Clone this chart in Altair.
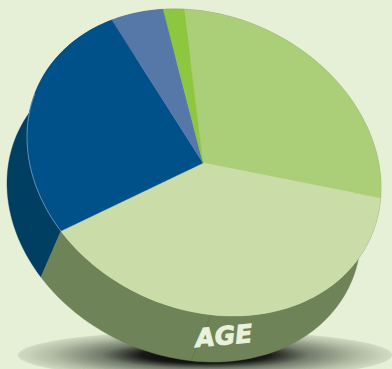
import numpy as np
import pandas as pd
import altair as alt

# Age breakdown, in percent, clockwise from the narrow green slice's right edge
categories = ["a", "b", "c", "d", "e"]
shares = [27.9, 38.9, 26.3, 5.0, 1.9]
top_colors = ["#ABCF78", "#CADDA9", "#00508A", "#5578A8", "#8DC63F"]
side_colors = ["#7F9A5A", "#6E8358", "#003F62", "#3F5A7E", "#6B9630"]
label_text = "AGE"

W, H = 392, 369
CX, CY, RX, RY = 204.0, 162.5, 177.0, 153.5
SKEW = np.radians(9.5)
START = 263.5
DROP_X, DROP_Y = -20.0, 46.0
BG = "#E5F0D6"

# Shadow falloff: relative radius and grey level per RGB channel
SHADOW_R = [0.0, 0.35, 0.56, 0.83, 1.0]
SHADOW_RGB = [(0, 0, 0), (25, 25, 24), (115, 124, 108), (178, 188, 165), (208, 218, 194)]


def rim(deg):
    t = np.radians(np.asarray(deg, dtype=float))
    return CX + RX * np.cos(t), CY + RY * np.sin(t + SKEW)


def polygon(xs, ys):
    return pd.DataFrame({"x": xs, "y": ys, "i": np.arange(len(xs))})


x_enc = alt.X("x:Q", axis=None, scale=alt.Scale(domain=[0, W]))
y_enc = alt.Y("y:Q", axis=None, scale=alt.Scale(domain=[H, 0]))


def filled(df, **style):
    return alt.Chart(df).mark_line(clip=True, **style).encode(
        x=x_enc, y=y_enc, order="i:Q"
    )


layers = []

# Ground shadow under the disc: nested ellipses from the rim inward
a = np.linspace(0, 2 * np.pi, 90)
for r in np.linspace(1.0, 0.03, 48):
    rgb = [int(round(np.interp(r, SHADOW_R, [c[j] for c in SHADOW_RGB]))) for j in range(3)]
    color = "#%02x%02x%02x" % tuple(rgb)
    layers.append(filled(
        polygon(205 + 187 * r * np.cos(a), 355 + 24 * r * np.sin(a)),
        fill=color, stroke=color, strokeWidth=0.2,
    ))

edges = START + 3.6 * np.concatenate([[0], np.cumsum(shares)])

# Side wall of each slice: the rim arc swept along the extrusion vector
for k in range(len(shares)):
    arc = np.linspace(edges[k], edges[k + 1], 80)
    ax, ay = rim(arc)
    xs = np.concatenate([ax, (ax + DROP_X)[::-1]])
    ys = np.concatenate([ay, (ay + DROP_Y)[::-1]])
    layers.append(filled(polygon(xs, ys), fill=side_colors[k], stroke=side_colors[k], strokeWidth=0.4))

# Faint seam on the front of the wall
sx, sy = rim([87.7])
layers.append(filled(
    polygon(np.array([sx[0], sx[0] + DROP_X]), np.array([sy[0], sy[0] + DROP_Y])),
    stroke="#5F7349", strokeWidth=0.7,
))

# Top face slices
for k in range(len(shares)):
    arc = np.linspace(edges[k], edges[k + 1], 80)
    ax, ay = rim(arc)
    xs = np.concatenate([[CX - 1], ax, [CX - 1]])
    ys = np.concatenate([[CY + 0.5], ay, [CY + 0.5]])
    layers.append(filled(polygon(xs, ys), fill=top_colors[k], stroke=top_colors[k], strokeWidth=0.4))

# Pale highlight where the dark blue top meets its wall
hx, hy = rim(np.linspace(edges[2], edges[2] + 53, 50))
layers.append(filled(polygon(hx, hy), stroke="#7FA5C2", strokeWidth=0.7))

label = alt.Chart(pd.DataFrame({"x": [224], "y": [336.5], "t": [label_text]})).mark_text(
    font="DejaVu Sans",
    fontStyle="oblique",
    fontWeight="bold",
    fontSize=25,
    color="#E9F1DB",
    stroke="#E9F1DB",
    strokeWidth=1.0,
    angle=355,
    align="center",
    baseline="middle",
).encode(x=x_enc, y=y_enc, text="t:N")
layers.append(label)

chart = alt.layer(*layers).properties(
    width=W, height=H, padding=0, autosize=alt.AutoSizeParams(type="none"), background=BG
).configure_view(stroke=None)

chart.save("out.html", embed_options={"renderer": "svg", "actions": False})
